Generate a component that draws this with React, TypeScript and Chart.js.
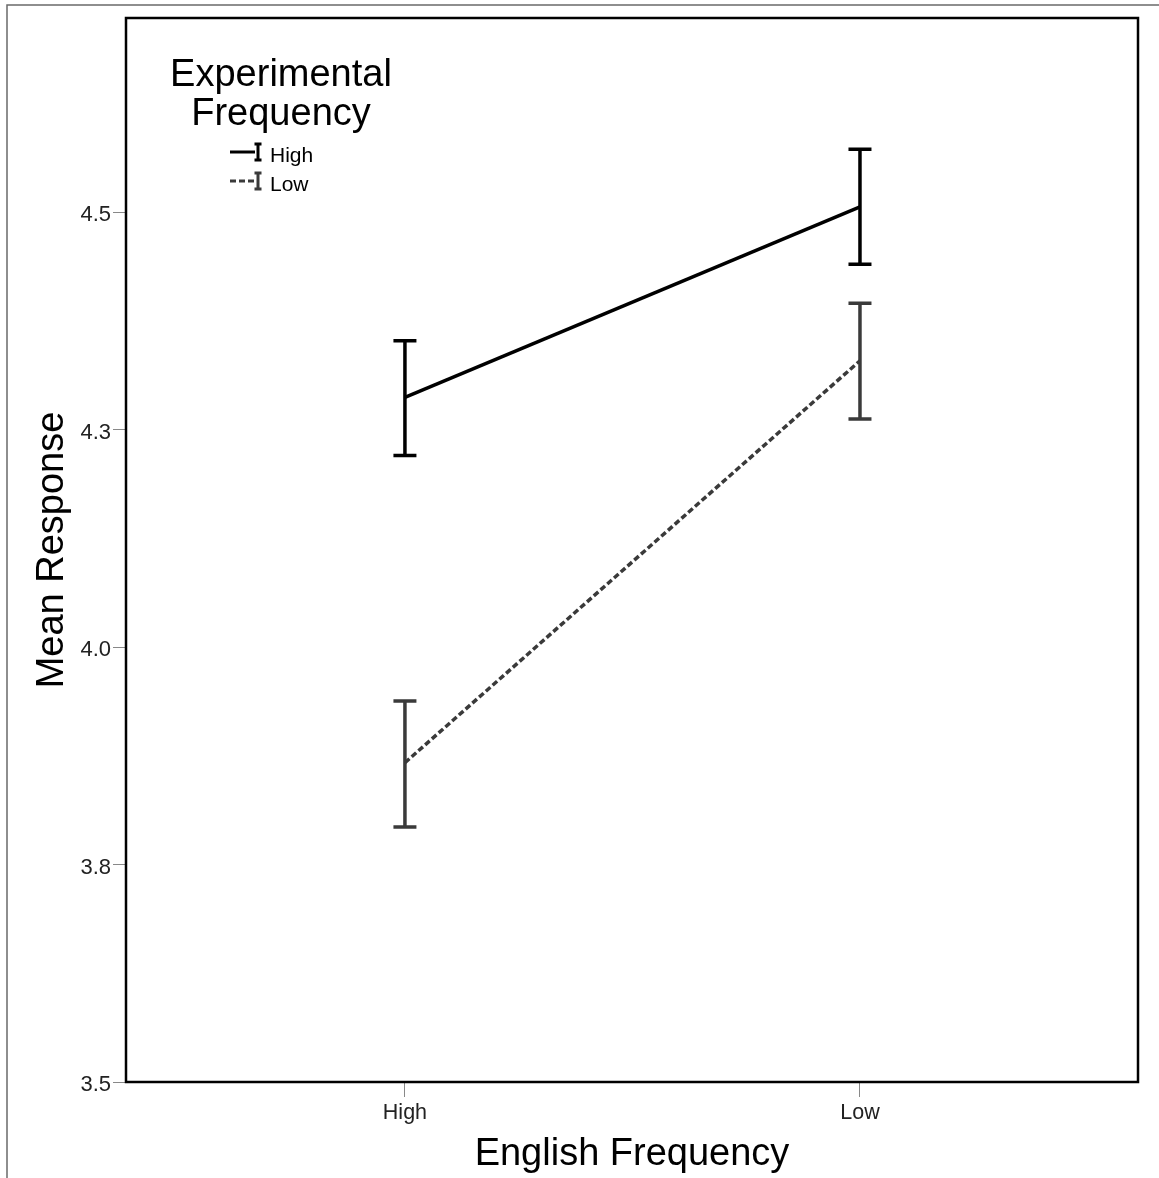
import React, { useEffect, useRef } from "react";
import { Chart, registerables } from "chart.js";

Chart.register(...registerables);

// English Frequency categories (x axis)
const categories = ["High", "Low"];
// Experimental Frequency series
const seriesNames = ["High", "Low"];
const highMean = [4.287, 4.506];
const highLower = [4.22, 4.44];
const highUpper = [4.352, 4.572];
const lowMean = [3.867, 4.329];
const lowLower = [3.793, 4.262];
const lowUpper = [3.938, 4.395];
const yTickValues = [3.5, 3.75, 4.0, 4.25, 4.5];
const yTickLabels = ["3.5", "3.8", "4.0", "4.3", "4.5"];
const legendTitle = ["Experimental", "Frequency"];
const xTitle = "English Frequency";
const yTitle = "Mean Response";

const FONT = "'Liberation Sans', Arial, Helvetica, sans-serif";
const HIGH_COLOR = "#000000";
const LOW_COLOR = "#3a3a3a";

const W = 1159;
const H = 1178;

export default function App() {
  const ref = useRef<HTMLCanvasElement | null>(null);

  useEffect(() => {
    const canvas = ref.current;
    if (!canvas) return;

    const errorBars = {
      id: "errorBars",
      afterDatasetsDraw(chart: any) {
        const { ctx, scales } = chart;
        const xs = scales.x;
        const ys = scales.y;
        const sets = [
          { lo: highLower, hi: highUpper, color: HIGH_COLOR },
          { lo: lowLower, hi: lowUpper, color: LOW_COLOR },
        ];
        ctx.save();
        sets.forEach((s) => {
          ctx.strokeStyle = s.color;
          ctx.lineWidth = 3.5;
          ctx.setLineDash([]);
          s.lo.forEach((lo, i) => {
            const x = xs.getPixelForValue(i);
            const y1 = ys.getPixelForValue(lo);
            const y2 = ys.getPixelForValue(s.hi[i]);
            ctx.beginPath();
            ctx.moveTo(x, y1);
            ctx.lineTo(x, y2);
            ctx.moveTo(x - 11.5, y1);
            ctx.lineTo(x + 11.5, y1);
            ctx.moveTo(x - 11.5, y2);
            ctx.lineTo(x + 11.5, y2);
            ctx.stroke();
          });
        });
        ctx.restore();
      },
    };

    const decor = {
      id: "decor",
      beforeDraw(chart: any) {
        const { ctx } = chart;
        ctx.save();
        ctx.fillStyle = "#ffffff";
        ctx.fillRect(0, 0, W, H);
        ctx.strokeStyle = "#6a6a6a";
        ctx.lineWidth = 1.5;
        ctx.beginPath();
        ctx.moveTo(7, H);
        ctx.lineTo(7, 5);
        ctx.lineTo(W, 5);
        ctx.stroke();
        ctx.restore();
      },
      afterDraw(chart: any) {
        const { ctx, chartArea } = chart;
        ctx.save();
        ctx.strokeStyle = "#000";
        ctx.lineWidth = 2.5;
        ctx.setLineDash([]);
        ctx.strokeRect(
          chartArea.left,
          chartArea.top,
          chartArea.right - chartArea.left,
          chartArea.bottom - chartArea.top
        );
        // legend
        ctx.fillStyle = "#000";
        ctx.textAlign = "center";
        ctx.textBaseline = "alphabetic";
        ctx.font = `38px ${FONT}`;
        ctx.fillText(legendTitle[0], 281, 86);
        ctx.fillText(legendTitle[1], 281, 125);
        const items = [
          { name: seriesNames[0], color: HIGH_COLOR, dash: [] as number[], y: 152 },
          { name: seriesNames[1], color: LOW_COLOR, dash: [6, 3], y: 181 },
        ];
        items.forEach((it) => {
          ctx.strokeStyle = it.color;
          ctx.lineWidth = 3;
          ctx.setLineDash(it.dash);
          ctx.beginPath();
          ctx.moveTo(230, it.y);
          ctx.lineTo(255, it.y);
          ctx.stroke();
          ctx.setLineDash([]);
          ctx.beginPath();
          ctx.moveTo(258, it.y - 8);
          ctx.lineTo(258, it.y + 8);
          ctx.moveTo(254.5, it.y - 8);
          ctx.lineTo(261.5, it.y - 8);
          ctx.moveTo(254.5, it.y + 8);
          ctx.lineTo(261.5, it.y + 8);
          ctx.stroke();
          ctx.fillStyle = "#000";
          ctx.textAlign = "left";
          ctx.font = `21px ${FONT}`;
          ctx.fillText(it.name, 270, it.y + 10);
        });
        ctx.restore();
      },
    };

    const chart = new Chart(canvas, {
      type: "line",
      data: {
        datasets: [
          {
            label: seriesNames[0],
            data: highMean.map((v, i) => ({ x: i, y: v })),
            borderColor: HIGH_COLOR,
            borderWidth: 3.5,
            pointRadius: 0,
            fill: false,
            tension: 0,
          },
          {
            label: seriesNames[1],
            data: lowMean.map((v, i) => ({ x: i, y: v })),
            borderColor: LOW_COLOR,
            borderWidth: 3.5,
            borderDash: [6, 3],
            pointRadius: 0,
            fill: false,
            tension: 0,
          },
        ],
      },
      options: {
        responsive: false,
        animation: false,
        devicePixelRatio: 1,
        layout: { padding: { top: 18, right: 21, left: 0, bottom: 0 } },
        plugins: {
          legend: { display: false },
          tooltip: { enabled: false },
        },
        scales: {
          x: {
            type: "linear",
            min: -0.613,
            max: 1.611,
            afterBuildTicks: (scale: any) => {
              scale.ticks = categories.map((_, i) => ({ value: i }));
            },
            afterFit: (scale: any) => {
              scale.height = 96;
            },
            ticks: {
              callback: (v: any) => categories[v as number] ?? "",
              font: { family: FONT, size: 21.5 },
              color: "#222",
              padding: 3,
              maxRotation: 0,
              autoSkip: false,
            },
            grid: {
              drawOnChartArea: false,
              drawTicks: true,
              tickLength: 15,
              color: "#888",
              lineWidth: 1,
            },
            border: { display: false },
            title: {
              display: true,
              text: xTitle,
              font: { family: FONT, size: 38 },
              color: "#000",
              padding: { top: 0, bottom: 1 },
            },
          },
          y: {
            type: "linear",
            min: 3.5,
            max: 4.723,
            afterBuildTicks: (scale: any) => {
              scale.ticks = yTickValues.map((v) => ({ value: v }));
            },
            afterFit: (scale: any) => {
              scale.width = 126;
            },
            ticks: {
              callback: (_v: any, i: number) => yTickLabels[i],
              font: { family: FONT, size: 22 },
              color: "#222",
              padding: 2,
              labelOffset: 3,
              autoSkip: false,
            },
            grid: {
              drawOnChartArea: false,
              drawTicks: true,
              tickLength: 13,
              color: "#888",
              lineWidth: 1,
            },
            border: { display: false },
            title: {
              display: true,
              text: yTitle,
              font: { family: FONT, size: 38 },
              color: "#000",
              padding: { top: 30, bottom: 0 },
            },
          },
        },
      },
      plugins: [decor, errorBars],
    } as any);

    return () => chart.destroy();
  }, []);

  return (
    <div style={{ position: "absolute", left: 0, top: 0, width: W, height: H, background: "#fff" }}>
      <canvas ref={ref} width={W} height={H} style={{ display: "block", width: W, height: H }} />
    </div>
  );
}
